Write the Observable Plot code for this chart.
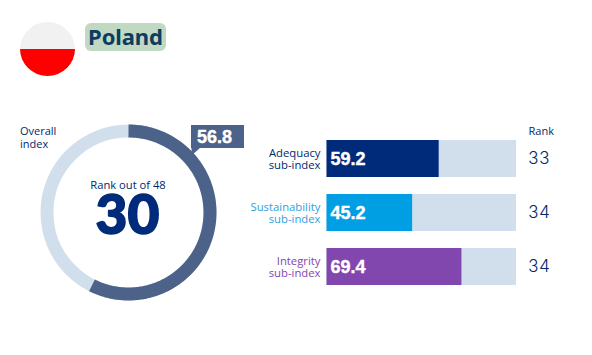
<!DOCTYPE html>
<html><head><meta charset="utf-8">
<script src="https://cdn.jsdelivr.net/npm/d3@7"></script>
<script src="https://cdn.jsdelivr.net/npm/@observablehq/plot@0.6"></script>
<style>
html,body{margin:0;padding:0;background:#fff}
#wrap{position:relative;width:592px;height:355px;overflow:hidden}
#wrap svg{position:absolute;left:0;top:0;background:transparent}
#flag{position:absolute;left:20px;top:22px;width:55px;height:54px;border-radius:50%;background:linear-gradient(#f1f1f1 50%,#ff0000 50%)}
#title{position:absolute;left:85px;top:23px;width:81px;height:28px;text-align:center;background:#c1d8c2;border-radius:6px;color:#0c3c60;font:bold 22px/26px "Noto Sans";letter-spacing:-0.1px}
</style></head><body>
<div id="wrap"><div id="flag"></div><div id="title"></div></div>
<script>
const country = "Poland";
const overallValue = 56.8;
const overallArcLength = 57.4;
const overallRank = 30;
const rankTotal = 48;
const subIndexes = ["Adequacy", "Sustainability", "Integrity"];
const subValues = [59.2, 45.2, 69.4];
const subBarLengths = [59.2, 45.2, 71.2];
const subRanks = [33, 34, 34];
const subColors = ["#002b7a", "#009fe3", "#8246af"];
const subLabelColors = ["#002a6c", "#2f9fdc", "#8246af"];

const W = 592, H = 355;
const navy = "#002a6c", ring = "#4d6288", track = "#d1dfec";
const sans = '"Open Sans"';
const valueFont = '"Liberation Sans"';
document.getElementById("title").textContent = country;

// Donut and callout, in a pixel-scaled plot
const cx = 128, cy = 212, R = 81.5;
const arc = d3.range(0, overallArcLength * 4).map(i => i / 4).concat(overallArcLength);
const px = v => cx + R * Math.sin(v / 100 * 2 * Math.PI);
const py = v => cy - R * Math.cos(v / 100 * 2 * Math.PI);
const donut = Plot.plot({
  width: W, height: H, margin: 0,
  x: {type: "identity", axis: null}, y: {type: "identity", axis: null},
  marks: [
    Plot.dot([0], {x: () => cx, y: () => cy, r: R, fill: "none", stroke: track, strokeWidth: 13}),
    Plot.line(arc, {x: px, y: py, stroke: ring, strokeWidth: 13, strokeLinecap: "butt", curve: "linear"}),
    Plot.rect([0], {x1: () => 191, x2: () => 244, y1: () => 125, y2: () => 148, fill: ring}),
    Plot.line([[191, 147], [200, 147], [191, 155]], {x: d => d[0], y: d => d[1], fill: ring, stroke: "none"}),
    Plot.text([overallValue.toFixed(1)], {x: () => 196.5, y: () => 136.5, text: d => d, textAnchor: "start", fill: "#fff", stroke: "#fff", strokeWidth: 0.4, fontFamily: valueFont, fontWeight: "bold", fontSize: 18}),
    Plot.text(["Overall\nindex"], {x: () => 19.5, y: () => 137, text: d => d, textAnchor: "start", fill: navy, fontFamily: sans, fontSize: 11, lineHeight: 1.15}),
    Plot.text([`Rank out of ${rankTotal}`], {x: () => cx - 0.5, y: () => 185, text: d => d, fill: navy, fontFamily: sans, fontSize: 11.2}),
    Plot.text([overallRank], {x: () => cx - 1, y: () => 216, text: d => d, fill: "#002b7a", stroke: "#002b7a", strokeWidth: 1.6, fontFamily: "Lato", fontWeight: 900, fontSize: 55}),
    Plot.text(["Rank"], {x: () => 528, y: () => 131, text: d => d, textAnchor: "start", fill: navy, fontFamily: sans, fontSize: 11})
  ]
});
document.getElementById("wrap").append(donut);

// Sub-index bars
const rows = subIndexes.map((name, i) => ({name, value: subValues[i], length: subBarLengths[i], rank: subRanks[i], color: subColors[i], label: subLabelColors[i]}));
const bars = Plot.plot({
  width: W, height: H, margin: 0,
  x: {domain: [0, 100], range: [326.5, 516], axis: null},
  y: {domain: subIndexes, range: [140, 285], paddingInner: 0.315, paddingOuter: 0, axis: null},
  marks: [
    Plot.barX(rows, {x1: () => 0, x2: () => 100, y: "name", fill: track}),
    Plot.barX(rows, {x1: () => 0, x2: "length", y: "name", fill: "color"}),
    Plot.text(rows, {x: () => 0, y: "name", text: d => d.value.toFixed(1), dx: 3.5, textAnchor: "start", fill: "#fff", stroke: "#fff", strokeWidth: 0.4, fontFamily: valueFont, fontWeight: "bold", fontSize: 18}),
    Plot.text(rows, {x: () => 0, y: "name", text: d => `${d.name}\nsub-index`, dx: -6.5, textAnchor: "end", fill: "label", fontFamily: sans, fontSize: 11.3, lineHeight: 1.13}),
    Plot.text(rows, {x: () => 100, y: "name", text: "rank", dx: 11.5, textAnchor: "start", fill: navy, fontFamily: "Inter", fontWeight: 300, fontSize: 17})
  ]
});
document.getElementById("wrap").append(bars);
</script>
</body></html>
